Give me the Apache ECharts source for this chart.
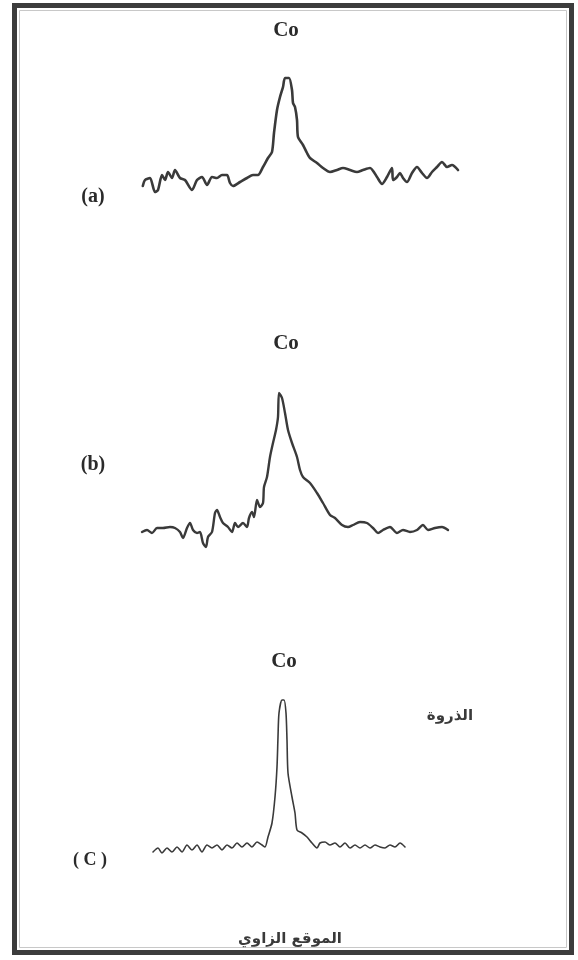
<!DOCTYPE html>
<html>
<head>
<meta charset="utf-8">
<script src="https://cdn.jsdelivr.net/npm/echarts@6/dist/echarts.min.js"></script>
<style>
html,body{margin:0;padding:0;background:#fff;}
#chart{width:578px;height:960px;}
</style>
</head>
<body>
<div id="chart"></div>
<script>
// Trace (a): [angle position (a.u.), intensity (a.u.)]
var traceA = [
[0.7,14],[1.25,20],[2.5,22],[3.75,8],[4.5,10],[5.5,25],[6.25,20],[7,28],[8,22],[8.75,30],
[10,22],[11.25,20],[13,10],[14.25,20],[15.5,23],[16.75,15],[18,23],[19.25,22],[20.5,25],[21.75,25],
[22.5,17],[23.25,14],[25,18],[26.75,22],[28.25,25],[29.5,25],[30.75,33],[32,42],[33,48],[33.5,67],
[34.25,90],[35,103],[35.75,113],[36.25,122],[37.25,122],[38,110],[38.25,97],[38.75,93],[39.25,80],[39.5,63],
[40.75,55],[41.75,47],[42.5,42],[44.25,37],[45.75,32],[47.5,28],[49.25,30],[50.75,32],[52.5,30],[54.25,28],
[55.75,30],[57.5,32],[59.25,23],[60.5,16],[61.75,23],[63,32],[63.25,20],[64.25,23],[65,27],[65.75,22],
[66.75,18],[68,27],[69.25,33],[70.5,27],[71.75,22],[73,28],[74.25,33],[75.5,38],[76.75,33],[78,35],[79.5,30]
];
// Trace (b)
var traceB = [
[0.5,28],[1.75,30],[3,27],[4.25,32],[5.75,32],[7.5,33],[8.75,32],[10,28],[10.75,22],[11.75,32],
[12.5,37],[13.25,30],[14.25,27],[15,28],[15.75,17],[16.5,13],[17,23],[18,28],[18.75,47],[19.25,50],
[20,43],[20.75,37],[22,33],[23,28],[23.75,37],[24.5,33],[25.75,37],[26.75,33],[27.25,42],[28,48],
[28.5,43],[29.25,60],[30,53],[30.75,57],[31,73],[31.75,83],[32.5,103],[33.25,117],[34,130],[34.5,143],
[34.75,167],[35.5,162],[36.25,147],[37,130],[38,117],[39.25,103],[40,90],[40.75,83],[42.5,77],[44.25,67],
[45.75,57],[47.5,45],[48.75,42],[50.5,35],[52,33],[53.25,35],[55,38],[56.75,37],[58.25,32],[59.5,27],
[60.75,30],[62.5,33],[64.25,27],[65.75,30],[67.5,28],[69.25,30],[70.75,35],[72,30],[73.75,32],[75.5,33],[77,30]
];
// Trace (c)
var traceC = [
[3.25,8],[4.5,12],[5.5,7],[6.75,12],[8,8],[9.25,13],[10.5,8],[11.75,15],[13,10],[14.25,15],
[15.5,8],[16.75,15],[18,12],[19.25,15],[20.5,10],[21.75,15],[23,12],[24.25,17],[25.5,13],[26.75,17],
[28,13],[29.25,18],[30.5,15],[31.25,13],[32,23],[33,37],[33.75,63],[34.25,93],[34.5,123],[34.75,147],
[35.5,160],[36,160],[36.5,147],[36.75,120],[37,87],[38,63],[38.75,47],[39.25,30],[40.5,27],[41.75,23],
[43,17],[44.25,12],[45,17],[46.25,18],[47.5,15],[48.75,17],[50,13],[51.25,17],[52.5,12],[53.75,15],
[55,12],[56.25,15],[57.5,12],[58.75,15],[60,13],[61.25,12],[62.5,15],[63.75,13],[65,17],[66.25,13]
];
var panelLabels = ['(a)', '(b)', '( C )'];
var elementLabel = 'Co';
var peakLabel = 'الذروة';
var axisLabelText = 'الموقع الزاوي';

var chart = echarts.init(document.getElementById('chart'), null, {renderer:'canvas'});
var grids = [
  {left:140, top:60, width:320, height:140},
  {left:140, top:380, width:320, height:180},
  {left:140, top:680, width:320, height:180}
];
var yMax = [140, 180, 180];
var traces = [traceA, traceB, traceC];
var widths = [2.6, 2.4, 1.6];
var xAxes = [], yAxes = [], series = [];
for (var i = 0; i < 3; i++) {
  xAxes.push({gridIndex:i, type:'value', min:0, max:80, show:false});
  yAxes.push({gridIndex:i, type:'value', min:0, max:yMax[i], show:false});
  series.push({
    type:'line', xAxisIndex:i, yAxisIndex:i, data:traces[i],
    showSymbol:false, smooth:0.25, silent:true,
    lineStyle:{color:'#3a3a3a', width:widths[i], cap:'round', join:'round'}
  });
}
var serif = '"Liberation Serif", "DejaVu Serif", serif';
var arab = '"DejaVu Sans", "Noto Sans", sans-serif';
var graphics = [
  {type:'rect', shape:{x:14.5, y:5.5, width:557, height:947}, style:{fill:'none', stroke:'#3c3c3c', lineWidth:5}, silent:true},
  {type:'rect', shape:{x:19.5, y:10.5, width:547, height:937}, style:{fill:'none', stroke:'#c8c8c8', lineWidth:1}, silent:true},
  {type:'text', x:286, y:31, style:{text:elementLabel, font:'bold 21px '+serif, fill:'#2a2a2a', align:'center', verticalAlign:'middle'}},
  {type:'text', x:286, y:344, style:{text:elementLabel, font:'bold 21px '+serif, fill:'#2a2a2a', align:'center', verticalAlign:'middle'}},
  {type:'text', x:284, y:662, style:{text:elementLabel, font:'bold 21px '+serif, fill:'#2a2a2a', align:'center', verticalAlign:'middle'}},
  {type:'text', x:93, y:197, style:{text:panelLabels[0], font:'bold 20px '+serif, fill:'#2a2a2a', align:'center', verticalAlign:'middle'}},
  {type:'text', x:93, y:465, style:{text:panelLabels[1], font:'bold 20px '+serif, fill:'#2a2a2a', align:'center', verticalAlign:'middle'}},
  {type:'text', x:90, y:860, style:{text:panelLabels[2], font:'bold 18px '+serif, fill:'#2a2a2a', align:'center', verticalAlign:'middle'}},
  {type:'text', x:450, y:716, style:{text:peakLabel, font:'bold 15px '+arab, fill:'#3a3a3a', align:'center', verticalAlign:'middle'}},
  {type:'text', x:290, y:939, style:{text:axisLabelText, font:'bold 15px '+arab, fill:'#3a3a3a', align:'center', verticalAlign:'middle'}}
];
chart.setOption({
  animation:false,
  backgroundColor:'#ffffff',
  grid:grids,
  xAxis:xAxes,
  yAxis:yAxes,
  series:series,
  graphic:graphics
});
</script>
</body>
</html>
